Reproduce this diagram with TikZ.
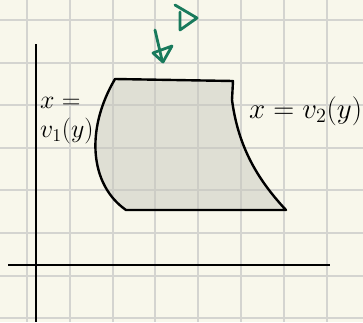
\documentclass[tikz,border=0pt]{standalone}
\usepackage{amsmath,amssymb}
\usepackage{graphicx}
\usepackage{xcolor}
\usepackage{tikz}
\usetikzlibrary{positioning,calc}
\definecolor{paper}{RGB}{248,247,235}
\definecolor{gridgray}{RGB}{212,212,208}
\definecolor{penink}{RGB}{24,122,92}
\definecolor{shade}{RGB}{200,200,190}
\newcommand{\hand}[1]{\scalebox{1.4}{#1}}
\newcommand{\gridpaper}{
\begin{scope}
\fill[paper] (0,0) rectangle (363,322);
\foreach \i in {0,...,7}{
  \draw[gridgray,line width=2pt] ({27+42.8*\i},0) -- ({27+42.8*\i},322);
  \draw[gridgray,line width=2pt] (0,{20+42.6*\i}) -- (363,{20+42.6*\i});
}
\end{scope}
}

\begin{document}
\begin{tikzpicture}[x=1pt,y=-1pt,
  lbl/.style={font=\fontsize{20.74}{22}\selectfont, inner sep=0pt},
  ink/.style={penink,line width=2.8pt,line cap=round,line join=round}]
\useasboundingbox (0,0) rectangle (363,322);
\gridpaper
% axes
\draw[line width=2.4pt] (36,44) -- (36,322);
\draw[line width=2.4pt] (8,265) -- (330,265);
% region between the two curves
\draw[line width=2.4pt,line join=round,fill=shade,fill opacity=0.5]
  (115,79) -- (233,81) -- (232,100)
  .. controls (238,145) and (256,178) .. (286,210)
  -- (126,210)
  .. controls (90,185) and (85,130) .. (115,79) -- cycle;
% green pen marks
\draw[ink] (175,5) -- (197,18) -- (180,30) -- (180,12);
\draw[ink] (155,30) -- (162,60);
\draw[ink] (153,53) -- (172,46) -- (163,62) -- cycle;
% labels
\node[lbl,anchor=north west] (vone) at (40,97) {\scalebox{1.25}{\shortstack[l]{$x =$\\[5pt]$v_1(y)$}}};
\node[lbl,anchor=west] (vtwo) at (249,111) {\hand{$x = v_2(y)$}};
\end{tikzpicture}
\end{document}
